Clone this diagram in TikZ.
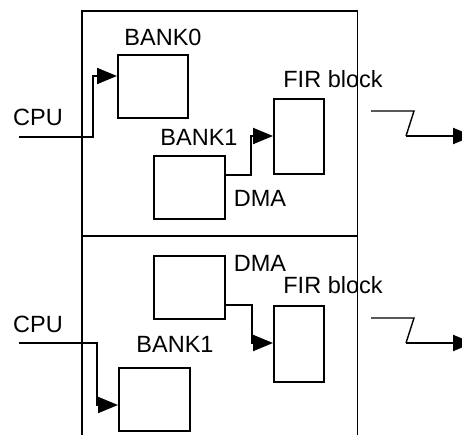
\documentclass[tikz,border=0pt]{standalone}
\usepackage{fontspec}
\setmainfont{Liberation Sans}
\usetikzlibrary{arrows.meta}
\begin{document}
\begin{tikzpicture}[x=1pt,y=-1pt,
  blk/.style={draw,line width=1.7pt,inner sep=0pt,anchor=north west},
  lbl/.style={font=\fontsize{23.5}{26}\selectfont,inner sep=0pt},
  wire/.style={line width=1.4pt},
  arr/.style={line width=2pt,-{Triangle[length=20pt,width=16pt]}},
  frame/.style={line width=1.6pt}]
\useasboundingbox (0,0) rectangle (462,435);
% frame
\draw[frame] (82,435) -- (82,11) -- (357.5,11) -- (357.5,435);
\draw[frame] (82,236) -- (357.5,236);
% upper half
\node[blk,minimum width=70pt,minimum height=63pt] (b0) at (117,54) {};
\node[lbl] (b0l) at (163,37) {BANK0};
\node[blk,minimum width=71pt,minimum height=63pt] (b1) at (153,155) {};
\node[lbl] (b1l) at (199,137) {BANK1};
\node[blk,minimum width=50pt,minimum height=75pt] (f1) at (273,98) {};
\node[lbl] (f1l) at (333,79) {FIR block};
\node[lbl] (d1l) at (260,198) {DMA};
\node[lbl] (c1l) at (38,117) {CPU};
\coordinate (c1) at (19,137);
\draw[wire] (c1) -- (93,137) -- (93,76);
\draw[arr] (92.3,76) -- (b0.west |- 0,76);
\draw[wire] (b1.east |- 0,175) -- (251,175) -- (251,136);
\draw[arr] (250.3,136) -- (f1.west |- 0,136);
\coordinate (o1) at (371,111);
\coordinate (o1e) at (473,136);
\draw[wire] (o1) -- (414,111) -- (406,136);
\draw[arr] (406,136) -- (o1e);
% lower half
\node[blk,minimum width=71pt,minimum height=63pt] (b2) at (153,255) {};
\node[lbl] (d2l) at (260,263) {DMA};
\node[blk,minimum width=50pt,minimum height=76pt] (f2) at (273,305) {};
\node[lbl] (f2l) at (333,285) {FIR block};
\node[blk,minimum width=71pt,minimum height=63pt] (b3) at (118,367) {};
\node[lbl] (b3l) at (175,344) {BANK1};
\node[lbl] (c2l) at (38,324) {CPU};
\coordinate (c2) at (19,343);
\draw[wire] (c2) -- (97,343) -- (97,405);
\draw[arr] (96.3,405) -- (b3.west |- 0,405);
\draw[wire] (b2.east |- 0,305) -- (252,305) -- (252,343);
\draw[arr] (251.3,343) -- (f2.west |- 0,343);
\coordinate (o2) at (371,318);
\coordinate (o2e) at (473,343);
\draw[wire] (o2) -- (414,318) -- (406,343);
\draw[arr] (406,343) -- (o2e);
\end{tikzpicture}
\end{document}
